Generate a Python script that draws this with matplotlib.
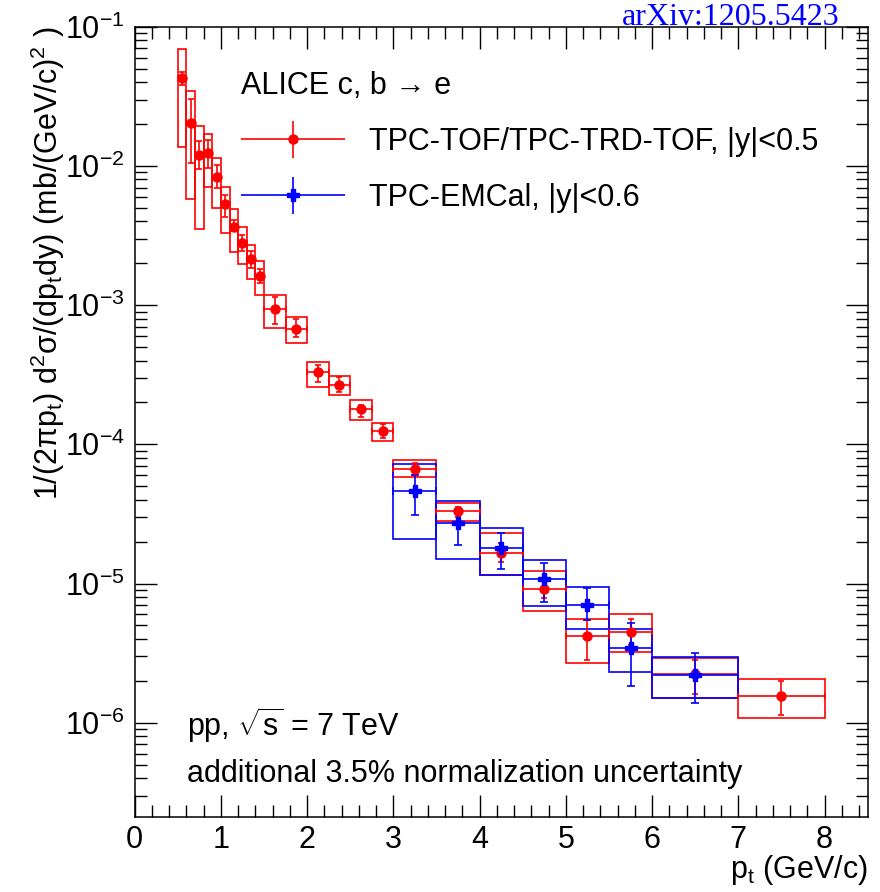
import numpy as np
import matplotlib
matplotlib.use('Agg')
import matplotlib.pyplot as plt
from matplotlib.container import ErrorbarContainer
from matplotlib.legend_handler import HandlerErrorbar
from matplotlib.ticker import MultipleLocator, LogLocator, NullFormatter

plt.rcParams['font.family'] = ['Liberation Sans', 'DejaVu Sans']
plt.rcParams['mathtext.fontset'] = 'custom'
plt.rcParams['mathtext.rm'] = 'Liberation Sans'
plt.rcParams['mathtext.it'] = 'Liberation Sans:italic'
plt.rcParams['mathtext.bf'] = 'Liberation Sans:bold'

# TPC-TOF / TPC-TRD-TOF, |y|<0.5  (bin edges in GeV/c)
tof_edges = [0.5, 0.6, 0.7, 0.8, 0.9, 1.0, 1.1, 1.2, 1.3, 1.4, 1.5,
             1.75, 2.0, 2.25, 2.5, 2.75, 3.0, 3.5, 4.0, 4.5, 5.0, 5.5, 6.0, 7.0, 8.0]
tof_y = [0.0428, 0.0203, 0.0120, 0.0123, 0.00838, 0.00533, 0.00365, 0.00281,
         0.00214, 0.00162, 0.000946, 0.000679, 0.000331, 0.000265, 0.000178,
         0.000124, 6.7e-5, 3.3e-5, 1.67e-5, 9.2e-6, 4.2e-6, 4.5e-6, 2.24e-6, 1.55e-6]
tof_stat_hi = [0.047, 0.0302, 0.0150, 0.01538, 0.0102, 0.0062, 0.0041, 0.00318,
               0.00245, 0.00182, 0.00114, 0.0008, 0.000373, 0.000303, 0.000193,
               0.000139, 7.4e-5, 3.55e-5, 1.95e-5, 1.05e-5, 5.5e-6, 5.6e-6, 2.8e-6, 2.0e-6]
tof_stat_lo = [0.038, 0.01056, 0.0095, 0.00961, 0.00695, 0.0043, 0.0034, 0.00245,
               0.00186, 0.00144, 0.000735, 0.000588, 0.000282, 0.000237, 0.000156,
               0.000111, 6.0e-5, 3.0e-5, 1.42e-5, 7.9e-6, 2.84e-6, 3.6e-6, 1.6e-6, 1.14e-6]
tof_sys_hi = [0.0695, 0.0343, 0.0194, 0.0169, 0.01148, 0.00703, 0.0049, 0.00365,
              0.0027, 0.00207, 0.00118, 0.000824, 0.000391, 0.000308, 0.000208,
              0.000143, 7.7e-5, 3.8e-5, 2.3e-5, 1.23e-5, 5.6e-6, 6.0e-6, 2.9e-6, 2.05e-6]
tof_sys_lo = [0.01377, 0.00575, 0.00352, 0.00703, 0.00496, 0.0033, 0.00242, 0.00196,
              0.00153, 0.00118, 0.00069, 0.000536, 0.000258, 0.000225, 0.000149,
              0.000106, 5.8e-5, 2.8e-5, 1.15e-5, 6.3e-6, 2.7e-6, 3.2e-6, 1.5e-6, 1.09e-6]

# TPC-EMCal, |y|<0.6
emc_edges = [3.0, 3.5, 4.0, 4.5, 5.0, 5.5, 6.0, 7.0]
emc_y = [4.6e-5, 2.7e-5, 1.8e-5, 1.07e-5, 7.0e-6, 3.45e-6, 2.2e-6]
emc_stat_hi = [6.0e-5, 3.45e-5, 2.3e-5, 1.4e-5, 9.3e-6, 5.2e-6, 3.15e-6]
emc_stat_lo = [3.1e-5, 1.9e-5, 1.28e-5, 7.4e-6, 5.5e-6, 1.85e-6, 1.38e-6]
emc_sys_hi = [7.2e-5, 3.9e-5, 2.5e-5, 1.48e-5, 9.5e-6, 4.75e-6, 2.95e-6]
emc_sys_lo = [2.1e-5, 1.5e-5, 1.15e-5, 6.9e-6, 4.7e-6, 2.3e-6, 1.5e-6]

FS = 22

fig = plt.figure(figsize=(8.8, 8.92), dpi=100)
ax = fig.add_axes([0.153, 0.084, 0.833, 0.886])


def draw(edges, y, st_lo, st_hi, sy_lo, sy_hi, color, marker, ms, cap):
    edges = np.array(edges)
    x = 0.5 * (edges[:-1] + edges[1:])
    w = np.diff(edges)
    y = np.array(y)
    # systematic boxes
    ax.bar(x, np.array(sy_hi) - np.array(sy_lo), width=w, bottom=sy_lo,
           fill=False, edgecolor=color, linewidth=1.2, zorder=2)
    yerr = [y - np.array(st_lo), np.array(st_hi) - y]
    ax.errorbar(x, y, xerr=w / 2, yerr=yerr, fmt=marker, color=color,
                ms=ms, elinewidth=1.2, capsize=cap, capthick=1.2, zorder=3)


draw(tof_edges, tof_y, tof_stat_lo, tof_stat_hi, tof_sys_lo, tof_sys_hi,
     'red', 'o', 6.5, 2.3)
draw(emc_edges, emc_y, emc_stat_lo, emc_stat_hi, emc_sys_lo, emc_sys_hi,
     'blue', 'P', 9, 2.8)

ax.set_yscale('log')
ax.set_xlim(0, 8.5)
ax.set_ylim(2.1e-7, 0.1)

ax.xaxis.set_major_locator(MultipleLocator(1))
ax.xaxis.set_minor_locator(MultipleLocator(0.2))
ax.yaxis.set_major_locator(LogLocator(base=10, numticks=20))
ax.yaxis.set_minor_locator(LogLocator(base=10, subs=np.arange(2, 10), numticks=20))
ax.yaxis.set_minor_formatter(NullFormatter())
ax.tick_params(which='both', direction='in', top=True, right=True,
               labelsize=FS, width=1.0)
ax.tick_params(which='major', length=16)
ax.tick_params(which='minor', length=8.5)
ax.tick_params(axis='x', pad=6)
ax.tick_params(axis='y', pad=7)
for s in ax.spines.values():
    s.set_linewidth(1.1)

ax.set_ylabel('1/(2\u03c0p$_{\\rm t}$) d$^{2}$\u03c3/(dp$_{\\rm t}$dy) (mb/(GeV/c)$^{2}$ )',
              fontsize=FS, loc='top')
ax.yaxis.set_label_coords(-0.092, 1.0)
ax.set_xlabel(r'p$_{\rm t}$ (GeV/c)', fontsize=FS, loc='right')
ax.xaxis.set_label_coords(1.0, -0.046)

# legend
h_red = ax.errorbar([np.nan], [np.nan], xerr=[1], yerr=[1], fmt='o', color='red',
                    ms=6.5, elinewidth=1.2, capsize=0)
h_blue = ax.errorbar([np.nan], [np.nan], xerr=[1], yerr=[1], fmt='P', color='blue',
                     ms=9, elinewidth=1.2, capsize=0)
leg = ax.legend([h_red, h_blue],
                ['TPC-TOF/TPC-TRD-TOF, |y|<0.5', 'TPC-EMCal, |y|<0.6'],
                title='ALICE c, b \u2192 e', title_fontsize=FS, fontsize=FS,
                loc='upper left', bbox_to_anchor=(0.145, 0.944), frameon=False,
                borderpad=0, borderaxespad=0, handlelength=3.4, handletextpad=0.8,
                labelspacing=0.85, alignment='left',
                handler_map={ErrorbarContainer: HandlerErrorbar(xerr_size=1.7, yerr_size=0.6)})

ax.text(0.072, 0.102, r'pp, $\sqrt{\mathrm{s}}$ = 7 TeV', transform=ax.transAxes,
        fontsize=FS, ha='left', va='baseline')
ax.text(0.072, 0.045, 'additional 3.5% normalization uncertainty', transform=ax.transAxes,
        fontsize=FS, ha='left', va='baseline')

fig.text(0.83, 0.972, 'arXiv:1205.5423', color='blue', fontsize=23,
         family='Liberation Serif', ha='center', va='baseline')

fig.savefig('out.png', dpi=100)
